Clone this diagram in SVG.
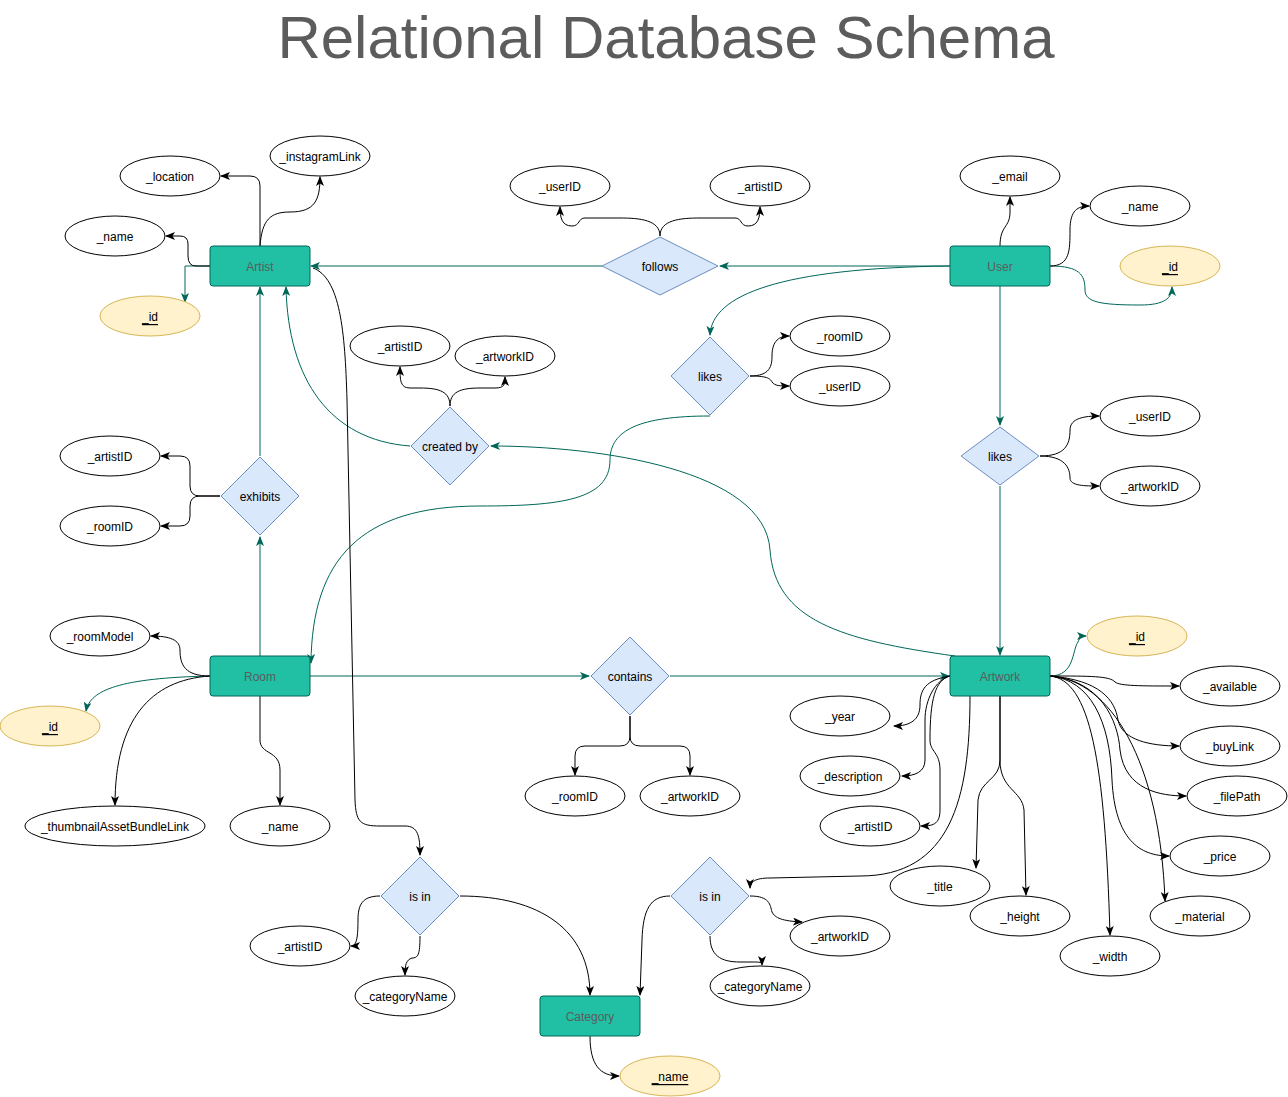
<svg xmlns="http://www.w3.org/2000/svg" width="1288" height="1097" viewBox="0 0 1288 1097">
<defs>
<marker id="ab" viewBox="0 0 10 8" refX="9" refY="4" markerWidth="10" markerHeight="8" markerUnits="userSpaceOnUse" orient="auto">
<path d="M0,0 L10,4 L0,8 L2.5,4 z" fill="#000"/>
</marker>
<marker id="at" viewBox="0 0 10 8" refX="9" refY="4" markerWidth="10" markerHeight="8" markerUnits="userSpaceOnUse" orient="auto">
<path d="M0,0 L10,4 L0,8 L2.5,4 z" fill="#006658"/>
</marker>
<style>
.ent rect{fill:#21C0A5;stroke:#006658;stroke-width:1}
.ent text{fill:#5C5C5C;font-family:"Liberation Sans",Arial,sans-serif;font-size:12px;text-anchor:middle;dominant-baseline:central;transform:translateY(1px)}
.rel polygon{fill:#dae8fc;stroke:#6c8ebf;stroke-width:1;stroke-linejoin:round}
.rel text,.att text{fill:#000;font-family:"Liberation Sans",Arial,sans-serif;font-size:12px;text-anchor:middle;dominant-baseline:central;transform:translateY(1px)}
.att ellipse{fill:#fff;stroke:#000;stroke-width:1}
.key ellipse{fill:#fff2cc;stroke:#d6b656;stroke-width:1}
.key text{text-decoration:underline}
.b{fill:none;stroke:#000;stroke-width:1;marker-end:url(#ab)}
.t{fill:none;stroke:#006658;stroke-width:1;marker-end:url(#at)}
.title{fill:#5C5C5C;font-family:"Liberation Sans",Arial,sans-serif;font-size:60px;text-anchor:middle}
</style>
</defs>
<rect width="1288" height="1097" fill="#fff"/>
<text class="title" x="666" y="58">Relational Database Schema</text>

<g id="connectors">
<path class="t" d="M602,266 L311,266"/>
<path class="t" d="M950,266 L720,266"/>
<path class="t" d="M950,266 C780,268 712,295 710,335"/>
<path class="t" d="M710,416 C640,416 610,430 610,460 C610,500 560,506 480,506 C360,506 312,560 311,663"/>
<path class="t" d="M410,446 C330,440 288,380 286,287"/>
<path class="t" d="M955,656 C840,640 775,620 770,550 C765,470 600,446 491,446"/>
<path class="t" d="M260,456 L260,287"/>
<path class="t" d="M260,656 L260,537"/>
<path class="t" d="M310,676 L589,676"/>
<path class="t" d="M670,676 L949,676"/>
<path class="t" d="M1000,286 L1000,425"/>
<path class="t" d="M1000,486 L1000,655"/>
<path class="t" d="M210,266 L185,266 L185,302"/>
<path class="t" d="M1050,266 C1080,266 1085,275 1085,290 C1085,302 1100,305 1140,305 C1165,305 1172,298 1172,287"/>
<path class="t" d="M210,676 C120,678 90,690 86,711"/>
<path class="t" d="M1050,676 C1075,676 1072,650 1078,642 C1080,637 1082,636 1086,636"/>
<path class="b" d="M260,246 L260,186 Q260,176 250,176 L221,176"/>
<path class="b" d="M260,246 C262,220 270,212 290,212 C315,212 320,200 320,177"/>
<path class="b" d="M210,266 L196,266 Q188,266 188,256 L188,244 Q188,236 180,236 L166,236"/>
<path class="b" d="M660,236 C660,220 640,218 620,218 L585,218 C578,218 580,226 572,226 C562,226 560,218 560,207"/>
<path class="b" d="M660,236 C660,220 680,218 700,218 L735,218 C742,218 740,226 748,226 C758,226 760,218 760,207"/>
<path class="b" d="M1000,246 C1000,225 1010,228 1010,212 L1010,197"/>
<path class="b" d="M1050,266 C1070,266 1070,250 1070,230 C1070,210 1078,206 1089,206"/>
<path class="b" d="M450,406 C450,392 440,388 420,388 L410,388 C400,388 400,380 400,367"/>
<path class="b" d="M450,406 C450,392 460,388 480,388 L495,388 C505,388 505,384 505,377"/>
<path class="b" d="M750,376 C770,376 772,366 772,356 C772,340 780,336 789,336"/>
<path class="b" d="M750,376 C766,376 770,378 772,382 C775,386 780,386 789,386"/>
<path class="b" d="M1040,456 C1065,456 1070,445 1070,430 C1070,418 1085,416 1099,416"/>
<path class="b" d="M1040,456 C1065,456 1070,468 1070,478 C1070,486 1085,486 1099,486"/>
<path class="b" d="M220,496 L200,496 Q190,496 190,486 L190,466 Q190,456 180,456 L161,456"/>
<path class="b" d="M220,496 L200,496 Q190,496 190,506 L190,516 Q190,526 180,526 L161,526"/>
<path class="b" d="M210,676 C185,676 180,665 180,650 C180,640 170,636 151,636"/>
<path class="b" d="M210,676 C150,680 115,720 115,805"/>
<path class="b" d="M260,696 L260,740 C260,755 280,750 280,770 L280,805"/>
<path class="b" d="M630,716 L630,736 Q630,746 620,746 L585,746 Q575,746 575,756 L575,775"/>
<path class="b" d="M630,716 L630,736 Q630,746 640,746 L680,746 Q690,746 690,756 L690,775"/>
<path class="b" d="M313,268 C340,278 345,330 347,400 L355,800 C356,822 360,826 380,826 L405,826 C418,826 420,836 420,855"/>
<path class="b" d="M380,896 C362,896 358,905 358,920 C358,940 356,946 351,946"/>
<path class="b" d="M460,896 C540,896 590,930 590,995"/>
<path class="b" d="M420,936 C420,955 418,958 412,958 C406,960 405,965 405,975"/>
<path class="b" d="M670,896 C650,896 643,910 642,940 L640,995"/>
<path class="b" d="M750,896 C770,896 770,905 772,912 C775,918 782,921 802,922"/>
<path class="b" d="M710,936 C710,955 720,962 740,962 L752,962 C760,962 762,962 762,965"/>
<path class="b" d="M590,1036 C590,1065 600,1076 619,1076"/>
<path class="b" d="M950,676 C925,680 920,690 920,705 C920,720 910,726 894,726"/>
<path class="b" d="M950,676 C935,680 925,700 925,720 L925,760 C925,772 915,776 902,776"/>
<path class="b" d="M950,676 C935,680 930,700 930,740 C930,752 940,752 940,770 L940,810 C940,825 932,826 921,826"/>
<path class="b" d="M970,696 C970,800 950,876 860,876 L770,878 C755,878 750,882 750,888"/>
<path class="b" d="M1000,696 L1000,760 C1000,780 980,780 978,800 L976,868"/>
<path class="b" d="M1000,696 L1000,760 C1000,790 1022,790 1024,810 L1026,895"/>
<path class="b" d="M1050,676 C1090,676 1110,676 1115,682 C1120,686 1140,686 1179,686"/>
<path class="b" d="M1050,676 C1100,680 1115,700 1118,720 C1122,740 1150,746 1179,746"/>
<path class="b" d="M1050,676 C1100,680 1118,720 1120,750 C1125,790 1160,796 1186,796"/>
<path class="b" d="M1050,676 C1090,680 1110,720 1112,780 C1115,840 1140,856 1169,856"/>
<path class="b" d="M1050,676 C1110,680 1160,760 1165,901"/>
<path class="b" d="M1050,676 C1090,680 1105,760 1110,935"/>
</g>

<g id="artist" class="ent"><rect x="210" y="246" width="100" height="40" rx="3"/><text x="260" y="266">Artist</text></g>
<g id="user" class="ent"><rect x="950" y="246" width="100" height="40" rx="3"/><text x="1000" y="266">User</text></g>
<g id="room" class="ent"><rect x="210" y="656" width="100" height="40" rx="3"/><text x="260" y="676">Room</text></g>
<g id="artwork" class="ent"><rect x="950" y="656" width="100" height="40" rx="3"/><text x="1000" y="676">Artwork</text></g>
<g id="category" class="ent"><rect x="540" y="996" width="100" height="40" rx="3"/><text x="590" y="1016">Category</text></g>

<g id="rel-follows" class="rel"><polygon points="660,237 718,266 660,295 602,266"/><text x="660" y="266">follows</text></g>
<g id="rel-likes-room" class="rel"><polygon points="710,337 749,376 710,415 671,376"/><text x="710" y="376">likes</text></g>
<g id="rel-created-by" class="rel"><polygon points="450,407 489,446 450,485 411,446"/><text x="450" y="446">created by</text></g>
<g id="rel-likes-artwork" class="rel"><polygon points="1000,427 1039,456 1000,485 961,456"/><text x="1000" y="456">likes</text></g>
<g id="rel-exhibits" class="rel"><polygon points="260,457 299,496 260,535 221,496"/><text x="260" y="496">exhibits</text></g>
<g id="rel-contains" class="rel"><polygon points="630,637 669,676 630,715 591,676"/><text x="630" y="676">contains</text></g>
<g id="rel-isin-artist" class="rel"><polygon points="420,857 459,896 420,935 381,896"/><text x="420" y="896">is in</text></g>
<g id="rel-isin-artwork" class="rel"><polygon points="710,857 749,896 710,935 671,896"/><text x="710" y="896">is in</text></g>

<g id="artist-location" class="att"><ellipse cx="170" cy="176" rx="50" ry="20"/><text x="170" y="176">_location</text></g>
<g id="artist-instagram" class="att"><ellipse cx="320" cy="156" rx="50" ry="20"/><text x="320" y="156">_instagramLink</text></g>
<g id="artist-name" class="att"><ellipse cx="115" cy="236" rx="50" ry="20"/><text x="115" y="236">_name</text></g>
<g id="artist-id" class="att key"><ellipse cx="150" cy="316" rx="50" ry="20"/><text x="150" y="316">_id</text></g>
<g id="follows-userid" class="att"><ellipse cx="560" cy="186" rx="50" ry="20"/><text x="560" y="186">_userID</text></g>
<g id="follows-artistid" class="att"><ellipse cx="760" cy="186" rx="50" ry="20"/><text x="760" y="186">_artistID</text></g>
<g id="user-email" class="att"><ellipse cx="1010" cy="176" rx="50" ry="20"/><text x="1010" y="176">_email</text></g>
<g id="user-name" class="att"><ellipse cx="1140" cy="206" rx="50" ry="20"/><text x="1140" y="206">_name</text></g>
<g id="user-id" class="att key"><ellipse cx="1170" cy="266" rx="50" ry="20"/><text x="1170" y="266">_id</text></g>
<g id="createdby-artistid" class="att"><ellipse cx="400" cy="346" rx="50" ry="20"/><text x="400" y="346">_artistID</text></g>
<g id="createdby-artworkid" class="att"><ellipse cx="505" cy="356" rx="50" ry="20"/><text x="505" y="356">_artworkID</text></g>
<g id="likes-roomid" class="att"><ellipse cx="840" cy="336" rx="50" ry="20"/><text x="840" y="336">_roomID</text></g>
<g id="likes-userid" class="att"><ellipse cx="840" cy="386" rx="50" ry="20"/><text x="840" y="386">_userID</text></g>
<g id="likes2-userid" class="att"><ellipse cx="1150" cy="416" rx="50" ry="20"/><text x="1150" y="416">_userID</text></g>
<g id="likes2-artworkid" class="att"><ellipse cx="1150" cy="486" rx="50" ry="20"/><text x="1150" y="486">_artworkID</text></g>
<g id="exhibits-artistid" class="att"><ellipse cx="110" cy="456" rx="50" ry="20"/><text x="110" y="456">_artistID</text></g>
<g id="exhibits-roomid" class="att"><ellipse cx="110" cy="526" rx="50" ry="20"/><text x="110" y="526">_roomID</text></g>
<g id="room-model" class="att"><ellipse cx="100" cy="636" rx="50" ry="20"/><text x="100" y="636">_roomModel</text></g>
<g id="room-id" class="att key"><ellipse cx="50" cy="726" rx="50" ry="20"/><text x="50" y="726">_id</text></g>
<g id="room-thumb" class="att"><ellipse cx="115" cy="826" rx="90" ry="20"/><text x="115" y="826">_thumbnailAssetBundleLink</text></g>
<g id="room-name" class="att"><ellipse cx="280" cy="826" rx="50" ry="20"/><text x="280" y="826">_name</text></g>
<g id="contains-roomid" class="att"><ellipse cx="575" cy="796" rx="50" ry="20"/><text x="575" y="796">_roomID</text></g>
<g id="contains-artworkid" class="att"><ellipse cx="690" cy="796" rx="50" ry="20"/><text x="690" y="796">_artworkID</text></g>
<g id="artwork-id" class="att key"><ellipse cx="1137" cy="636" rx="50" ry="20"/><text x="1137" y="636">_id</text></g>
<g id="artwork-available" class="att"><ellipse cx="1230" cy="686" rx="50" ry="20"/><text x="1230" y="686">_available</text></g>
<g id="artwork-year" class="att"><ellipse cx="840" cy="716" rx="50" ry="20"/><text x="840" y="716">_year</text></g>
<g id="artwork-buylink" class="att"><ellipse cx="1230" cy="746" rx="50" ry="20"/><text x="1230" y="746">_buyLink</text></g>
<g id="artwork-description" class="att"><ellipse cx="850" cy="776" rx="50" ry="20"/><text x="850" y="776">_description</text></g>
<g id="artwork-filepath" class="att"><ellipse cx="1237" cy="796" rx="50" ry="20"/><text x="1237" y="796">_filePath</text></g>
<g id="artwork-artistid" class="att"><ellipse cx="870" cy="826" rx="50" ry="20"/><text x="870" y="826">_artistID</text></g>
<g id="artwork-price" class="att"><ellipse cx="1220" cy="856" rx="50" ry="20"/><text x="1220" y="856">_price</text></g>
<g id="artwork-title" class="att"><ellipse cx="940" cy="886" rx="50" ry="20"/><text x="940" y="886">_title</text></g>
<g id="artwork-height" class="att"><ellipse cx="1020" cy="916" rx="50" ry="20"/><text x="1020" y="916">_height</text></g>
<g id="artwork-material" class="att"><ellipse cx="1200" cy="916" rx="50" ry="20"/><text x="1200" y="916">_material</text></g>
<g id="artwork-width" class="att"><ellipse cx="1110" cy="956" rx="50" ry="20"/><text x="1110" y="956">_width</text></g>
<g id="isin1-artistid" class="att"><ellipse cx="300" cy="946" rx="50" ry="20"/><text x="300" y="946">_artistID</text></g>
<g id="isin1-categoryname" class="att"><ellipse cx="405" cy="996" rx="50" ry="20"/><text x="405" y="996">_categoryName</text></g>
<g id="isin2-artworkid" class="att"><ellipse cx="840" cy="936" rx="50" ry="20"/><text x="840" y="936">_artworkID</text></g>
<g id="isin2-categoryname" class="att"><ellipse cx="760" cy="986" rx="50" ry="20"/><text x="760" y="986">_categoryName</text></g>
<g id="category-name" class="att key"><ellipse cx="670" cy="1076" rx="50" ry="20"/><text x="670" y="1076">_name</text></g>
</svg>
